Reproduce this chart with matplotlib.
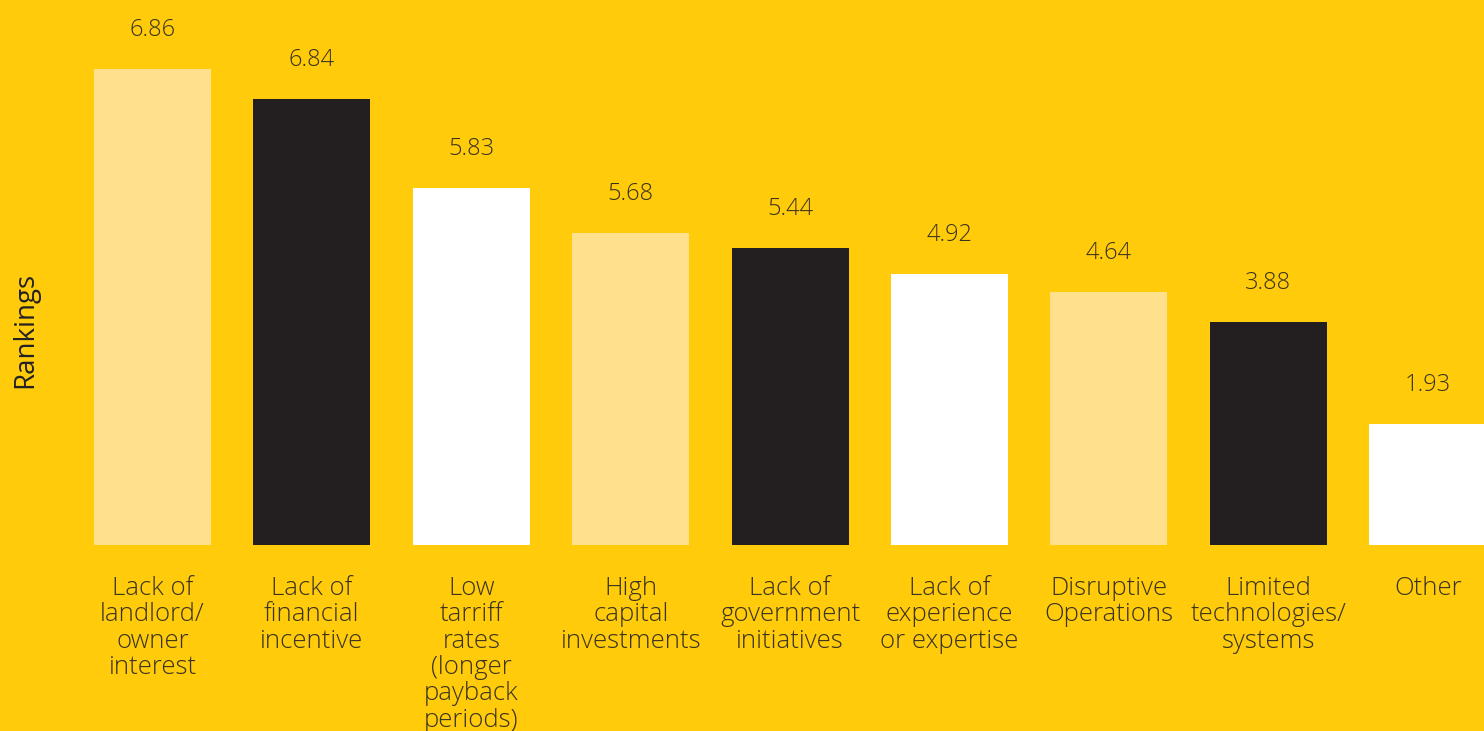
import matplotlib.pyplot as plt

categories = [
    "Lack of\nlandlord/\nowner\ninterest",
    "Lack of\nfinancial\nincentive",
    "Low\ntarriff\nrates\n(longer\npayback\nperiods)",
    "High\ncapital\ninvestments",
    "Lack of\ngovernment\ninitiatives",
    "Lack of\nexperience\nor expertise",
    "Disruptive\nOperations",
    "Limited\ntechnologies/\nsystems",
    "Other",
]
# printed values above the bars
values = [6.86, 6.84, 5.83, 5.68, 5.44, 4.92, 4.64, 3.88, 1.93]
# drawn bar heights (same units as the first bar)
heights = [6.86, 6.43, 5.14, 4.50, 4.28, 3.91, 3.65, 3.21, 1.75]
colors = ["#FFE08C", "#231F20", "#FFFFFF"] * 3

BG = "#FFCB0A"
TXT = "#3A3320"

plt.rcParams['font.family'] = ['Open Sans', 'DejaVu Sans']

fig = plt.figure(figsize=(14.84, 7.31), dpi=100, facecolor=BG)
ax = fig.add_axes([0, 186 / 731, 1, 545 / 731])
ax.set_facecolor(BG)

x = list(range(len(categories)))
ax.bar(x, heights, width=0.734, color=colors, linewidth=0)

for xi, h, v in zip(x, heights, values):
    ax.annotate(f"{v:.2f}", (xi, h), xytext=(0, 39), textcoords="offset pixels",
                ha="center", va="center", fontsize=17, color=TXT, fontweight="light")

for xi, c in zip(x, categories):
    ax.annotate(c, (xi, 0), xytext=(0, -31), textcoords="offset pixels",
                ha="center", va="top", fontsize=18.5, color=TXT, linespacing=1.07,
                fontweight="light", annotation_clip=False)

fig.text(25 / 1484, 1 - 330 / 731, "Rankings", rotation=90, ha="center", va="center",
         fontsize=20, color="#222222")

ax.set_xlim(-152.5 / 159.4, (1484 - 152.5) / 159.4)
ax.set_ylim(0, 545 / 69.39)
ax.axis('off')

fig.savefig("out.png", dpi=100, facecolor=BG)
